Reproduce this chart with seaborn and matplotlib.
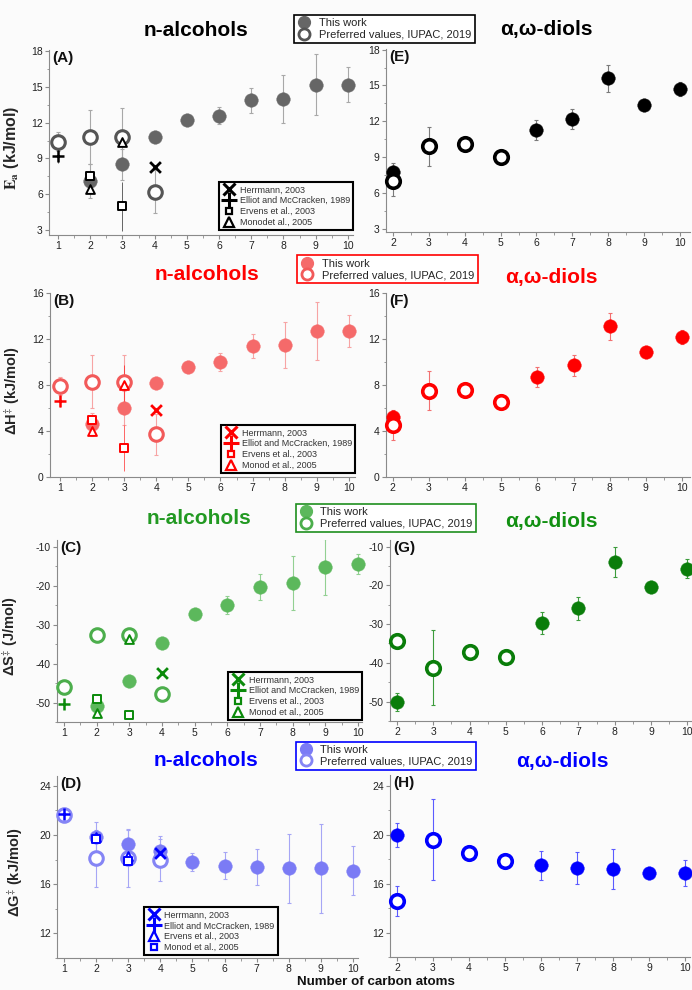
import seaborn as sns
import matplotlib.pyplot as plt
from matplotlib.lines import Line2D
from matplotlib.ticker import MultipleLocator

# number of carbon atoms
alc_this_c = [2, 3, 4, 5, 6, 7, 8, 9, 10]
alc_iupac_c = [1, 2, 3, 4]
diol_this_c = [2, 6, 7, 8, 9, 10]
diol_iupac_c = [2, 3, 4, 5]
herrmann_c = [4]
elliot_c = [1]
ervens_c = [2, 3]
monod_c = [2, 3]

# Ea (kJ/mol)
ea_alc_this = [7.1, 8.5, 10.8, 12.2, 12.6, 13.9, 14.0, 15.2, 15.2]
ea_alc_this_err = [1.4, 1.3, 0.4, 0.3, 0.7, 1.05, 2.0, 2.55, 1.45]
ea_alc_iupac = [10.4, 10.8, 10.8, 6.2]
ea_alc_iupac_err = [0.8, 2.3, 2.4, 1.8]
ea_herrmann = [8.3]
ea_elliot = [9.2]
ea_elliot_err = [0.6]
ea_ervens = [7.5, 5.0]
ea_ervens_err = [0.0, 2.05]
ea_monod = [6.4, 10.4]
ea_monod_err = [0.3, 0.0]
ea_diol_this = [7.8, 11.3, 12.2, 15.6, 13.4, 14.7]
ea_diol_this_err = [0.7, 0.85, 0.85, 1.15, 0.0, 0.6]
ea_diol_iupac = [7.0, 9.9, 10.1, 9.0]
ea_diol_iupac_err = [1.25, 1.65, 0.0, 0.0]

# dH (kJ/mol)
dh_alc_this = [4.6, 6.0, 8.2, 9.6, 10.0, 11.4, 11.5, 12.7, 12.7]
dh_alc_this_err = [1.0, 1.5, 0.4, 0.3, 0.8, 1.05, 2.0, 2.5, 1.4]
dh_alc_iupac = [7.9, 8.3, 8.3, 3.7]
dh_alc_iupac_err = [0.8, 2.3, 2.3, 1.8]
dh_herrmann = [5.8]
dh_elliot = [6.6]
dh_elliot_err = [0.5]
dh_ervens = [5.0, 2.5]
dh_ervens_err = [0.0, 2.0]
dh_monod = [4.0, 8.0]
dh_monod_err = [0.3, 1.7]
dh_diol_this = [5.2, 8.7, 9.7, 13.1, 10.9, 12.2]
dh_diol_this_err = [0.6, 0.85, 0.9, 1.15, 0.0, 0.6]
dh_diol_iupac = [4.5, 7.5, 7.6, 6.5]
dh_diol_iupac_err = [1.25, 1.7, 0.0, 0.0]

# dS (J/mol)
ds_alc_this = [-51.0, -44.5, -34.8, -27.3, -25.0, -20.4, -19.4, -15.3, -14.5]
ds_alc_this_err = [1.5, 1.5, 1.0, 1.0, 2.4, 3.4, 6.9, 7.2, 2.5]
ds_alc_iupac = [-45.9, -32.8, -32.7, -47.9]
ds_alc_iupac_err = [0.6, 0.0, 0.6, 0.8]
ds_herrmann = [-42.4]
ds_elliot = [-50.4]
ds_elliot_err = [0.0]
ds_ervens = [-49.0, -53.2]
ds_ervens_err = [0.0, 0.0]
ds_monod = [-52.6, -33.6]
ds_monod_err = [0.0, 0.0]
ds_diol_this = [-50.0, -29.7, -25.9, -14.0, -20.4, -15.7]
ds_diol_this_err = [2.3, 2.8, 3.0, 3.8, 0.0, 2.5]
ds_diol_iupac = [-34.3, -41.2, -37.1, -38.4]
ds_diol_iupac_err = [0.0, 9.6, 0.0, 0.0]

# dG (kJ/mol)
dg_alc_this = [19.8, 19.3, 18.7, 17.8, 17.5, 17.4, 17.3, 17.3, 17.1]
dg_alc_this_err = [1.3, 1.2, 1.2, 0.7, 1.1, 1.5, 2.8, 3.6, 2.0]
dg_alc_iupac = [21.6, 18.1, 18.1, 18.0]
dg_alc_iupac_err = [0.5, 2.3, 2.3, 1.7]
dg_herrmann = [18.5]
dg_elliot = [21.7]
dg_elliot_err = [0.0]
dg_ervens = [19.8, 18.3]
dg_ervens_err = [0.0, 0.0]
dg_monod = [19.7, 17.9]
dg_monod_err = [0.0, 0.0]
dg_diol_this = [20.0, 17.5, 17.3, 17.2, 16.9, 16.9]
dg_diol_this_err = [1.0, 1.2, 1.3, 1.65, 0.0, 1.05]
dg_diol_iupac = [14.6, 19.6, 18.5, 17.9]
dg_diol_iupac_err = [1.25, 3.3, 0.5, 0.0]

sns.set_theme(style='ticks')
plt.rcParams['font.family'] = ['Liberation Sans', 'DejaVu Sans']
plt.rcParams['mathtext.fontset'] = 'stix'
plt.rcParams['axes.unicode_minus'] = False

BG = '#fbfbfb'
AXC = '#8a8a8a'
W, H = 692, 990

fig = plt.figure(figsize=(6.92, 9.9), dpi=100, facecolor=BG)


def px_axes(left, right, top, bottom):
    return fig.add_axes([left / W, 1 - bottom / H, (right - left) / W, (bottom - top) / H])


def style(ax, xlim, ylim, ystep, xfirst, tag):
    ax.set_facecolor(BG)
    ax.set_xlim(xlim)
    ax.set_ylim(ylim)
    ax.set_xticks(range(xfirst, 11))
    ax.xaxis.set_minor_locator(MultipleLocator(0.5))
    ax.yaxis.set_major_locator(MultipleLocator(ystep))
    ax.yaxis.set_minor_locator(MultipleLocator(ystep / 2))
    sns.despine(ax=ax)
    for sp in ['left', 'bottom']:
        ax.spines[sp].set_color(AXC)
        ax.spines[sp].set_linewidth(0.8)
    ax.tick_params(which='both', color=AXC, labelcolor='#222222', labelsize=7.5, direction='out')
    ax.tick_params(which='major', length=3, width=0.8, pad=1.5)
    ax.tick_params(which='minor', length=1.8, width=0.6)
    ax.text(0.012, 0.995, tag, transform=ax.transAxes, ha='left', va='top',
            fontsize=11, fontweight='bold', color='#111111')


def series(ax, x, y, err, color, ecolor, hollow=False, s=95, lw=2.2):
    ax.errorbar(x, y, yerr=err, fmt='none', ecolor=ecolor, elinewidth=0.8,
                capsize=1.5, capthick=0.8, zorder=2)
    if hollow:
        sns.scatterplot(x=x, y=y, ax=ax, marker='o', s=s, facecolor='white',
                        edgecolor=color, linewidth=lw, zorder=4, clip_on=False)
    else:
        sns.scatterplot(x=x, y=y, ax=ax, marker='o', s=s, color=color,
                        edgecolor=color, linewidth=0.3, zorder=3, clip_on=False)


def literature(ax, vals, col, d_swap=False):
    herr, ell, ell_err, erv, erv_err, mon, mon_err = vals
    ax.errorbar(elliot_c, ell, yerr=ell_err, fmt='none', ecolor=col, elinewidth=0.7, alpha=0.6, zorder=2)
    ax.errorbar(ervens_c, erv, yerr=erv_err, fmt='none', ecolor=col, elinewidth=0.7, alpha=0.6, zorder=2)
    ax.errorbar(monod_c, mon, yerr=mon_err, fmt='none', ecolor=col, elinewidth=0.7, alpha=0.6, zorder=2)
    sns.scatterplot(x=herrmann_c, y=herr, ax=ax, marker='x', s=60, color=col, linewidth=2, zorder=5)
    sns.scatterplot(x=elliot_c, y=ell, ax=ax, marker='+', s=70, color=col, linewidth=1.8, zorder=5,
                    clip_on=False)
    m_erv, m_mon = ('^', 's') if d_swap else ('s', '^')
    sns.scatterplot(x=ervens_c, y=erv, ax=ax, marker=m_erv, s=28 if m_erv == 's' else 40,
                    facecolor='white', edgecolor=col, linewidth=1.4, zorder=5)
    sns.scatterplot(x=monod_c, y=mon, ax=ax, marker=m_mon, s=28 if m_mon == 's' else 40,
                    facecolor='white', edgecolor=col, linewidth=1.4, zorder=5)


def lit_legend(ax, col, labels, d_swap, loc, anchor):
    m_erv, m_mon = ('^', 's') if d_swap else ('s', '^')
    handles = [
        Line2D([], [], ls='', marker='x', ms=9, mew=2.2, color=col),
        Line2D([], [], ls='', marker='+', ms=11, mew=2.2, color=col),
        Line2D([], [], ls='', marker=m_erv, ms=6.5 if m_erv == '^' else 5, mew=1.6, mfc='white', mec=col),
        Line2D([], [], ls='', marker=m_mon, ms=6.5 if m_mon == '^' else 5, mew=1.6, mfc='white', mec=col),
    ]
    leg = ax.legend(handles, labels, loc=loc, bbox_to_anchor=anchor, fontsize=6.5,
                    frameon=True, fancybox=False, edgecolor='black', framealpha=1,
                    facecolor=BG, handlelength=1.5, handletextpad=0.4, labelspacing=0.2,
                    borderpad=0.35, borderaxespad=0)
    leg.get_frame().set_linewidth(1.5)
    for t in leg.get_texts():
        t.set_color('#333333')


def top_legend(fill, ring, edge, center):
    handles = [
        Line2D([], [], ls='', marker='o', ms=8.5, color=fill, mec=fill),
        Line2D([], [], ls='', marker='o', ms=8, mfc='white', mec=ring, mew=2),
    ]
    leg = fig.legend(handles, ['This work', 'Preferred values, IUPAC, 2019'], loc='center',
                     bbox_to_anchor=(center[0] / W, 1 - center[1] / H), fontsize=8,
                     frameon=True, fancybox=False, edgecolor=edge, framealpha=1, facecolor='white',
                     handlelength=1.2, handletextpad=0.7, labelspacing=0.12, borderpad=0.3)
    leg.get_frame().set_linewidth(1.2)


lit_labels = ['Herrmann, 2003', 'Elliot and McCracken, 1989', 'Ervens et al., 2003']

# ---------------- row 1: Ea ----------------
axA = px_axes(49, 353, 50, 235)
series(axA, alc_this_c, ea_alc_this, ea_alc_this_err, '#666666', '#a8a8a8')
series(axA, alc_iupac_c, ea_alc_iupac, ea_alc_iupac_err, '#555555', '#a8a8a8', hollow=True)
literature(axA, (ea_herrmann, ea_elliot, ea_elliot_err, ea_ervens, ea_ervens_err, ea_monod, ea_monod_err), 'black')
style(axA, (0.72, 10.16), (2.58, 18.1), 3, 1, '(A)')
axA.set_ylabel(r'$\mathbf{E_a}$ (kJ/mol)', fontsize=11.5, fontweight='bold')
axA.yaxis.set_label_coords(-0.092, 0.47)
lit_legend(axA, 'black', lit_labels + ['Monodet al., 2005'], False, 'lower right', (1.0, 0.027))

axE = px_axes(386, 690, 49, 232)
series(axE, diol_this_c, ea_diol_this, ea_diol_this_err, 'black', '#7a7a7a')
series(axE, diol_iupac_c, ea_diol_iupac, ea_diol_iupac_err, 'black', '#7a7a7a', hollow=True, lw=2.6)
style(axE, (1.805, 10.28), (2.75, 18.05), 3, 2, '(E)')

top_legend('#666666', '#555555', 'black', (384.5, 29))
fig.text(196 / W, 1 - 30 / H, 'n-alcohols', ha='center', va='center', fontsize=15, fontweight='bold', color='black')
fig.text(546 / W, 1 - 30 / H, 'α,ω-diols', ha='center', va='center', fontsize=15, fontweight='bold', color='black')

# ---------------- row 2: dH ----------------
axB = px_axes(50, 355, 293, 477)
series(axB, alc_this_c, dh_alc_this, dh_alc_this_err, '#f56a6a', '#f7a4a4')
series(axB, alc_iupac_c, dh_alc_iupac, dh_alc_iupac_err, '#f25a5a', '#f7a4a4', hollow=True)
literature(axB, (dh_herrmann, dh_elliot, dh_elliot_err, dh_ervens, dh_ervens_err, dh_monod, dh_monod_err), '#ff0000')
style(axB, (0.69, 10.19), (0, 16), 4, 1, '(B)')
axB.set_ylabel(r'ΔH$^{\ddag}$ (kJ/mol)', fontsize=10.5, fontweight='bold')
axB.yaxis.set_label_coords(-0.092, 0.47)
lit_legend(axB, '#ff0000', lit_labels + ['Monod et al., 2005'], False, 'lower right', (1.0, 0.022))

axF = px_axes(386, 690, 293, 477)
series(axF, diol_this_c, dh_diol_this, dh_diol_this_err, '#ff0000', '#f27070')
series(axF, diol_iupac_c, dh_diol_iupac, dh_diol_iupac_err, '#ff0000', '#f27070', hollow=True, lw=2.6)
style(axF, (1.815, 10.22), (0, 16), 4, 2, '(F)')

top_legend('#f56a6a', '#f25a5a', '#ff0000', (387.5, 269.5))
fig.text(207 / W, 1 - 275 / H, 'n-alcohols', ha='center', va='center', fontsize=15, fontweight='bold', color='#ff0000')
fig.text(551 / W, 1 - 277 / H, 'α,ω-diols', ha='center', va='center', fontsize=15, fontweight='bold', color='#ff0000')

# ---------------- row 3: dS ----------------
axC = px_axes(57, 362, 540, 722)
series(axC, alc_this_c, ds_alc_this, ds_alc_this_err, '#5cb85c', '#92d092')
series(axC, alc_iupac_c, ds_alc_iupac, ds_alc_iupac_err, '#4cae4c', '#92d092', hollow=True)
literature(axC, (ds_herrmann, ds_elliot, ds_elliot_err, ds_ervens, ds_ervens_err, ds_monod, ds_monod_err), '#0a8a0a')
style(axC, (0.786, 10.12), (-55, -8.3), 10, 1, '(C)')
axC.set_ylabel(r'ΔS$^{\ddag}$ (J/mol)', fontsize=10.5, fontweight='bold')
axC.yaxis.set_label_coords(-0.12, 0.47)
lit_legend(axC, '#0a8a0a', lit_labels + ['Monod et al., 2005'], False, 'lower right', (1.0, 0.011))

axG = px_axes(390, 691, 540, 721)
series(axG, diol_this_c, ds_diol_this, ds_diol_this_err, '#0a7d0a', '#3c9c3c')
series(axG, diol_iupac_c, ds_diol_iupac, ds_diol_iupac_err, '#0a7d0a', '#3c9c3c', hollow=True, lw=2.6)
style(axG, (1.807, 10.1), (-55, -8.3), 10, 2, '(G)')

top_legend('#5cb85c', '#4cae4c', '#1f8f1f', (386, 518))
fig.text(199 / W, 1 - 519 / H, 'n-alcohols', ha='center', va='center', fontsize=15, fontweight='bold', color='#229922')
fig.text(551 / W, 1 - 522 / H, 'α,ω-diols', ha='center', va='center', fontsize=15, fontweight='bold', color='#129012')

# ---------------- row 4: dG ----------------
axD = px_axes(57, 358, 776, 958)
series(axD, alc_this_c, dg_alc_this, dg_alc_this_err, '#7b7bf5', '#a6a6f5')
series(axD, alc_iupac_c, dg_alc_iupac, dg_alc_iupac_err, '#8585f5', '#a6a6f5', hollow=True)
literature(axD, (dg_herrmann, dg_elliot, dg_elliot_err, dg_ervens, dg_ervens_err, dg_monod, dg_monod_err), '#0000ff', d_swap=True)
style(axD, (0.78, 10.16), (10, 24.8), 4, 1, '(D)')
axD.set_ylabel(r'ΔG$^{\ddag}$ (kJ/mol)', fontsize=10.5, fontweight='bold')
axD.yaxis.set_label_coords(-0.106, 0.47)
lit_legend(axD, '#0000ff', lit_labels + ['Monod et al., 2005'], True, 'lower left', (0.289, 0.016))

axH = px_axes(390, 690, 775, 957)
series(axH, diol_this_c, dg_diol_this, dg_diol_this_err, '#0000ff', '#5b5bff')
series(axH, diol_iupac_c, dg_diol_iupac, dg_diol_iupac_err, '#0000ff', '#5b5bff', hollow=True, lw=2.6)
style(axH, (1.806, 10.14), (10, 24.9), 4, 2, '(H)')

top_legend('#7b7bf5', '#8585f5', '#0000ff', (386, 755.5))
fig.text(206 / W, 1 - 761 / H, 'n-alcohols', ha='center', va='center', fontsize=15, fontweight='bold', color='#0000ff')
fig.text(562 / W, 1 - 761 / H, 'α,ω-diols', ha='center', va='center', fontsize=15, fontweight='bold', color='#0000ff')

fig.text(376 / W, 1 - 982 / H, 'Number of carbon atoms', ha='center', va='center',
         fontsize=9.6, fontweight='bold', color='#111111')

fig.savefig('out.png', dpi=100, facecolor=BG)
